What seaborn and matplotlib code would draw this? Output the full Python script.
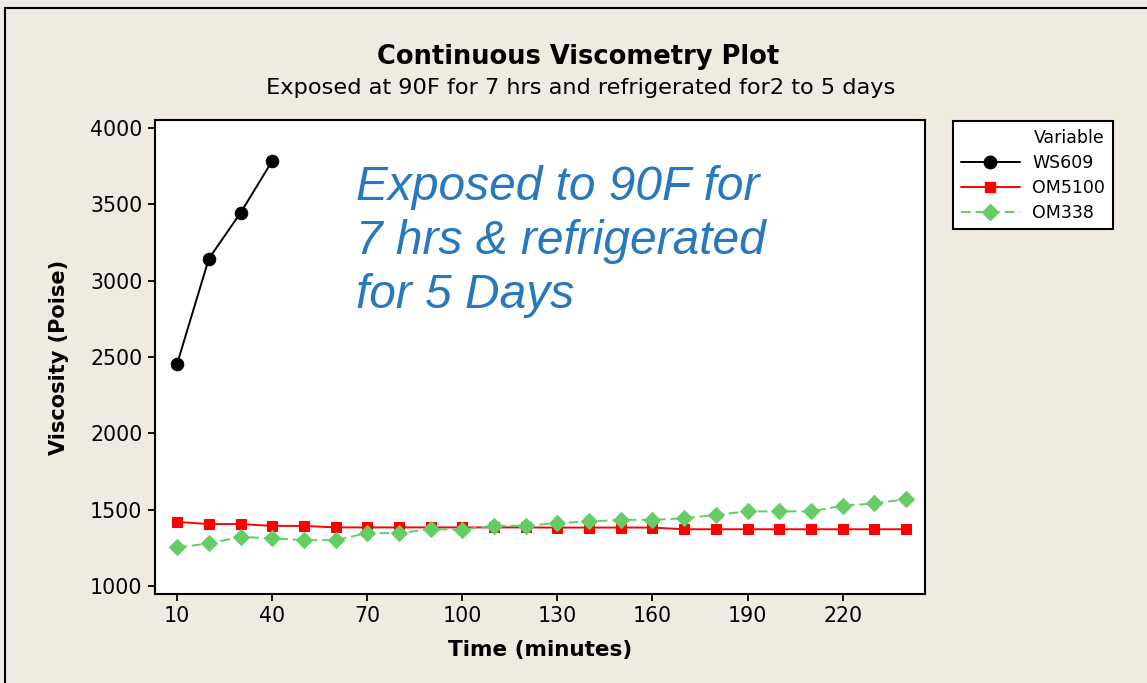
import numpy as np
import pandas as pd
import matplotlib
matplotlib.use("Agg")
import matplotlib.pyplot as plt
import seaborn as sns
from matplotlib.lines import Line2D

# ---- data ----
time_ws609 = [10, 20, 30, 40]
ws609 = [2457, 3144, 3444, 3784]

time_om = [10, 20, 30, 40, 50, 60, 70, 80, 90, 100, 110, 120,
           130, 140, 150, 160, 170, 180, 190, 200, 210, 220, 230, 240]
om5100 = [1420, 1406, 1406, 1394, 1394, 1384, 1384, 1384, 1384, 1384, 1384, 1384,
          1383, 1383, 1383, 1383, 1372, 1372, 1372, 1372, 1372, 1372, 1372, 1372]
om338 = [1253, 1279, 1322, 1312, 1301, 1301, 1347, 1347, 1372, 1370, 1395, 1395,
         1412, 1423, 1434, 1434, 1443, 1467, 1489, 1489, 1489, 1526, 1541, 1569]

series_names = ["WS609", "OM5100", "OM338"]
x_ticks = [10, 40, 70, 100, 130, 160, 190, 220]
y_ticks = [1000, 1500, 2000, 2500, 3000, 3500, 4000]

df = pd.concat([
    pd.DataFrame({"Time": time_ws609, "Viscosity": ws609, "Variable": "WS609"}),
    pd.DataFrame({"Time": time_om, "Viscosity": om5100, "Variable": "OM5100"}),
    pd.DataFrame({"Time": time_om, "Viscosity": om338, "Variable": "OM338"}),
], ignore_index=True)

colors = {"WS609": "#000000", "OM5100": "#FF0000", "OM338": "#66CC66"}
markers = {"WS609": "o", "OM5100": "s", "OM338": "D"}
dashes = {"WS609": "", "OM5100": "", "OM338": (5, 2.5)}
msizes = {"WS609": 9, "OM5100": 7.5, "OM338": 8.5}

sns.set_style("white")
plt.rcParams['font.family'] = ['DejaVu Sans']
plt.rcParams['text.color'] = 'black'
plt.rcParams['axes.labelcolor'] = 'black'

bg = "#EFEBE0"
fig = plt.figure(figsize=(11.47, 6.83), dpi=100, facecolor=bg)
ax = fig.add_axes([155/1147, 1-594/683, (925-155)/1147, (594-120)/683])
ax.set_facecolor("white")

for name in series_names:
    sub = df[df["Variable"] == name]
    sns.lineplot(data=sub, x="Time", y="Viscosity", ax=ax, color=colors[name],
                 marker=markers[name], markersize=msizes[name],
                 markeredgecolor=colors[name], linewidth=1.4, legend=False,
                 zorder=3 if name != "OM338" else 4)
for line, name in zip(ax.get_lines(), series_names):
    if dashes[name]:
        line.set_dashes(dashes[name])

ax.set_xlim(3, 246)
ax.set_ylim(948, 4052)
ax.set_xticks(x_ticks)
ax.set_yticks(y_ticks)
ax.tick_params(axis="both", direction="out", length=5, width=1.3, colors="black",
               labelsize=14.8, pad=4, bottom=True, left=True)
for s in ax.spines.values():
    s.set_color("black")
    s.set_linewidth(1.5)

ax.set_xlabel("Time (minutes)", fontsize=15.5, fontweight="bold", labelpad=10)
ax.set_ylabel("Viscosity (Poise)", fontsize=15, fontweight="bold", labelpad=15)

fig.text(578/1147, 1-57/683, "Continuous Viscometry Plot", ha="center", va="center",
         fontsize=18.5, fontweight="bold")
fig.text(581/1147, 1-88/683, "Exposed at 90F for 7 hrs and refrigerated for2 to 5 days",
         ha="center", va="center", fontsize=16.2)

ax.text(356/1147, 1-165/683, "Exposed to 90F for\n7 hrs & refrigerated\nfor 5 Days",
        transform=fig.transFigure, ha="left", va="top", fontsize=34.5, style="italic",
        color="#2878BD", family="Liberation Sans", linespacing=1.25)

# legend
handles = [Line2D([0], [0], color=colors[n], marker=markers[n], markersize=msizes[n],
                  linewidth=1.4, linestyle=(0, dashes[n]) if dashes[n] else "-")
           for n in series_names]
leg = fig.legend(handles, series_names, title="Variable", loc="upper left",
                 bbox_to_anchor=(953/1147, 1-121/683), frameon=True, fontsize=12.5,
                 title_fontsize=12.5, handlelength=3.4, handletextpad=0.7,
                 borderpad=0.45, borderaxespad=0, labelspacing=0.4, fancybox=False)
leg.get_frame().set_edgecolor("black")
leg.get_frame().set_linewidth(1.5)
leg.get_frame().set_facecolor("white")
leg.get_frame().set_alpha(1)
leg._legend_box.align = "right"

# outer border lines (left and top)
fig.add_artist(Line2D([5/1147, 5/1147], [0, 1-8/683], transform=fig.transFigure,
                      color="black", linewidth=1.5))
fig.add_artist(Line2D([5/1147, 1], [1-8/683, 1-8/683], transform=fig.transFigure,
                      color="black", linewidth=1.5))

fig.savefig("out.png", dpi=100, facecolor=bg)
